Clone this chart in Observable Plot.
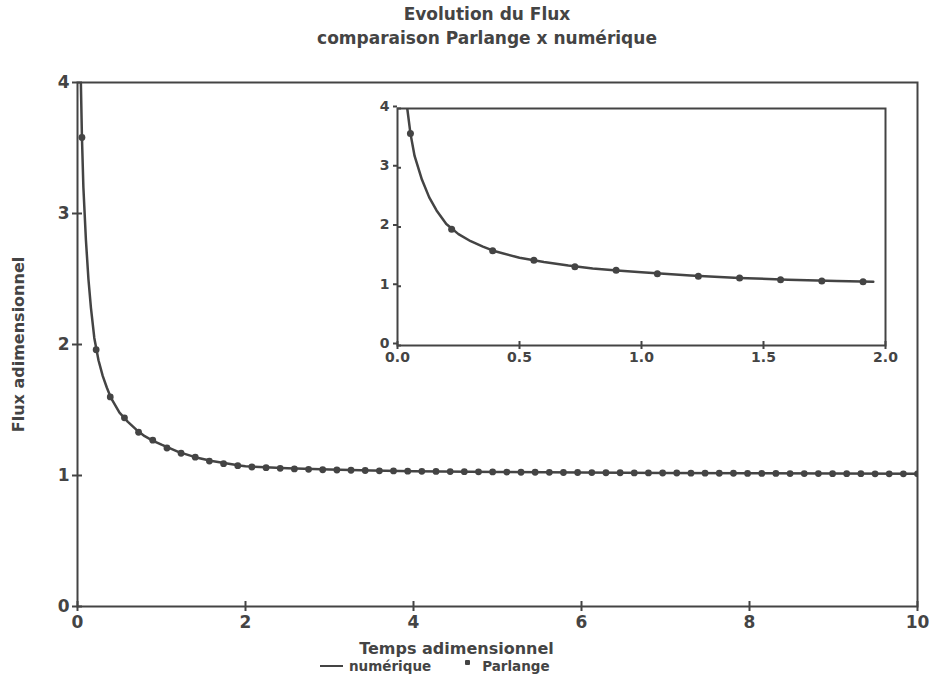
<!DOCTYPE html>
<html>
<head>
<meta charset="utf-8">
<script src="https://cdn.jsdelivr.net/npm/d3@7"></script>
<script src="https://cdn.jsdelivr.net/npm/@observablehq/plot@0.6"></script>
<style>
  html, body { margin: 0; padding: 0; background: #fff; }
  #wrap { position: relative; width: 930px; height: 688px; font-family: "DejaVu Sans", sans-serif; font-weight: bold; color: #444; }
  #title { position: absolute; left: 187px; top: 2px; width: 600px; text-align: center; font-size: 17px; line-height: 24px; }
  #legend { position: absolute; left: 320px; top: 656px; font-size: 13.5px; line-height: 20px; display: flex; align-items: center; white-space: nowrap; }
  .sw-line { display: inline-block; width: 23px; height: 2.5px; background: #444; margin-right: 6px; }
  .sw-dot { display: inline-block; width: 5px; height: 5px; background: #444; border-radius: 1px; margin: 0 12px 0 34px; position: relative; top: -4px; }
  #main, #inset { position: absolute; }
  #main { left: 0; top: 0; }
  #inset { left: 357px; top: 100px; }
</style>
</head>
<body>
<div id="wrap">
  <div id="main"></div>
  <div id="inset"></div>
  <div id="title"></div>
  <div id="legend"></div>
</div>
<script>
// ---- texts ----
const titleLines = ["Evolution du Flux", "comparaison Parlange x numérique"];
const xLabel = "Temps adimensionnel";
const yLabel = "Flux adimensionnel";
const legendLabels = ["numérique", "Parlange"];

// ---- ticks ----
const mainXTicks = [0, 2, 4, 6, 8, 10];
const mainYTicks = [0, 1, 2, 3, 4];
const insetXTicks = [0, 0.5, 1.0, 1.5, 2.0];
const insetYTicks = [0, 1, 2, 3, 4];

// ---- numerical solution (line) ----
const numT = [0.03, 0.04, 0.053, 0.07, 0.10, 0.13, 0.16, 0.20, 0.25, 0.30, 0.35, 0.40, 0.50, 0.60, 0.70, 0.80, 0.90, 1.00, 1.20, 1.40, 1.60, 1.80, 1.95, 2.00, 2.50, 3.00, 3.50, 4.00, 5.00, 6.00, 7.00, 8.00, 9.00, 10.00];
const numFlux = [4.60, 4.00, 3.58, 3.20, 2.80, 2.50, 2.28, 2.05, 1.88, 1.76, 1.67, 1.59, 1.48, 1.41, 1.35, 1.30, 1.265, 1.235, 1.18, 1.14, 1.11, 1.09, 1.075, 1.07, 1.055, 1.045, 1.038, 1.033, 1.027, 1.023, 1.019, 1.017, 1.015, 1.013];

// ---- Parlange (markers) ----
const parT = [0.053, 0.222, 0.390, 0.559, 0.727, 0.896, 1.065, 1.233, 1.402, 1.570, 1.739, 1.908,
  2.076, 2.245, 2.413, 2.582, 2.751, 2.919, 3.088, 3.256, 3.425, 3.594, 3.762, 3.931,
  4.099, 4.268, 4.437, 4.605, 4.774, 4.942, 5.111, 5.280, 5.448, 5.617, 5.785, 5.954,
  6.123, 6.291, 6.460, 6.628, 6.797, 6.966, 7.134, 7.303, 7.471, 7.640, 7.809, 7.977,
  8.146, 8.314, 8.483, 8.652, 8.820, 8.989, 9.157, 9.326, 9.495, 9.663, 9.832, 10.000];
const parFlux = [3.58, 1.96, 1.60, 1.44, 1.33, 1.27, 1.21, 1.17, 1.14, 1.11, 1.09, 1.075,
  1.065, 1.06, 1.055, 1.05, 1.047, 1.044, 1.042, 1.040, 1.038, 1.036, 1.035, 1.033,
  1.032, 1.031, 1.030, 1.029, 1.028, 1.027, 1.026, 1.025, 1.025, 1.024, 1.023, 1.023,
  1.022, 1.021, 1.021, 1.020, 1.020, 1.019, 1.019, 1.018, 1.018, 1.017, 1.017, 1.016,
  1.016, 1.016, 1.015, 1.015, 1.015, 1.014, 1.014, 1.014, 1.013, 1.013, 1.013, 1.013];

const numData = numT.map((t, i) => ({t, f: numFlux[i]}));
const parData = parT.map((t, i) => ({t, f: parFlux[i]}));

const ink = "#444";
const intFmt = d3.format("d");

// ---- main chart ----
const main = Plot.plot({
  width: 930,
  height: 688,
  marginLeft: 77,
  marginRight: 13,
  marginTop: 82,
  marginBottom: 82,
  style: {fontFamily: "DejaVu Sans, sans-serif", fontWeight: "bold", color: ink, background: "transparent", overflow: "visible"},
  x: {domain: [0, 10]},
  y: {domain: [0, 4]},
  marks: [
    Plot.frame({stroke: ink, strokeWidth: 2}),
    Plot.axisX(mainXTicks, {anchor: "bottom", tickSize: 5, tickPadding: 4, fontSize: 17, strokeWidth: 2, tickFormat: intFmt, label: null}),
    Plot.axisX(mainXTicks, {anchor: "bottom", tickSize: -5, tickFormat: () => "", strokeWidth: 2, label: null}),
    Plot.axisY(mainYTicks, {anchor: "left", tickSize: 5, tickPadding: 3, fontSize: 17, strokeWidth: 2, tickFormat: intFmt, label: null}),
    Plot.axisY(mainYTicks, {anchor: "left", tickSize: -5, tickFormat: () => "", strokeWidth: 2, label: null}),
    Plot.line(numData, {x: "t", y: "f", stroke: ink, strokeWidth: 2.5, clip: true}),
    Plot.dot(parData, {x: "t", y: "f", r: 3.4, fill: ink, stroke: "none", clip: true}),
    Plot.text([xLabel], {text: d => d, frameAnchor: "bottom", textAnchor: "middle", lineAnchor: "middle", dx: -41, dy: 42, fontSize: 16, fontWeight: "bold", fill: ink}),
    Plot.text([yLabel], {text: d => d, frameAnchor: "left", textAnchor: "middle", lineAnchor: "middle", dx: -59, rotate: -90, fontSize: 16, fontWeight: "bold", fill: ink})
  ]
});
document.getElementById("main").appendChild(main);

// ---- inset ----
const insetNum = numData.filter(d => d.t <= 1.95);
const insetPar = parData.filter(d => d.t <= 2);
const inset = Plot.plot({
  width: 540,
  height: 275,
  marginLeft: 40,
  marginRight: 12,
  marginTop: 8,
  marginBottom: 30,
  style: {fontFamily: "DejaVu Sans, sans-serif", fontWeight: "bold", color: ink, background: "transparent", overflow: "visible"},
  x: {domain: [0, 2]},
  y: {domain: [0, 4]},
  marks: [
    Plot.frame({stroke: ink, strokeWidth: 2}),
    Plot.axisX(insetXTicks, {anchor: "bottom", tickSize: 4, tickPadding: 3, fontSize: 14, strokeWidth: 2, tickFormat: d3.format(".1f"), label: null}),
    Plot.axisX(insetXTicks, {anchor: "bottom", tickSize: -4, tickFormat: () => "", strokeWidth: 2, label: null}),
    Plot.axisY(insetYTicks, {anchor: "left", tickSize: 4, tickPadding: 4, fontSize: 14, dy: -2, strokeWidth: 2, tickFormat: intFmt, label: null}),
    Plot.axisY(insetYTicks, {anchor: "left", tickSize: -4, tickFormat: () => "", strokeWidth: 2, label: null}),
    Plot.line(insetNum, {x: "t", y: "f", stroke: ink, strokeWidth: 2.5, clip: true}),
    Plot.dot(insetPar, {x: "t", y: "f", r: 3.5, fill: ink, stroke: "none"})
  ]
});
document.getElementById("inset").appendChild(inset);

// ---- title & legend ----
document.getElementById("title").innerHTML = titleLines.map(s => `<div>${s}</div>`).join("");
document.getElementById("legend").innerHTML =
  `<span class="sw-line"></span><span>${legendLabels[0]}</span><span class="sw-dot"></span><span>${legendLabels[1]}</span>`;
</script>
</body>
</html>
